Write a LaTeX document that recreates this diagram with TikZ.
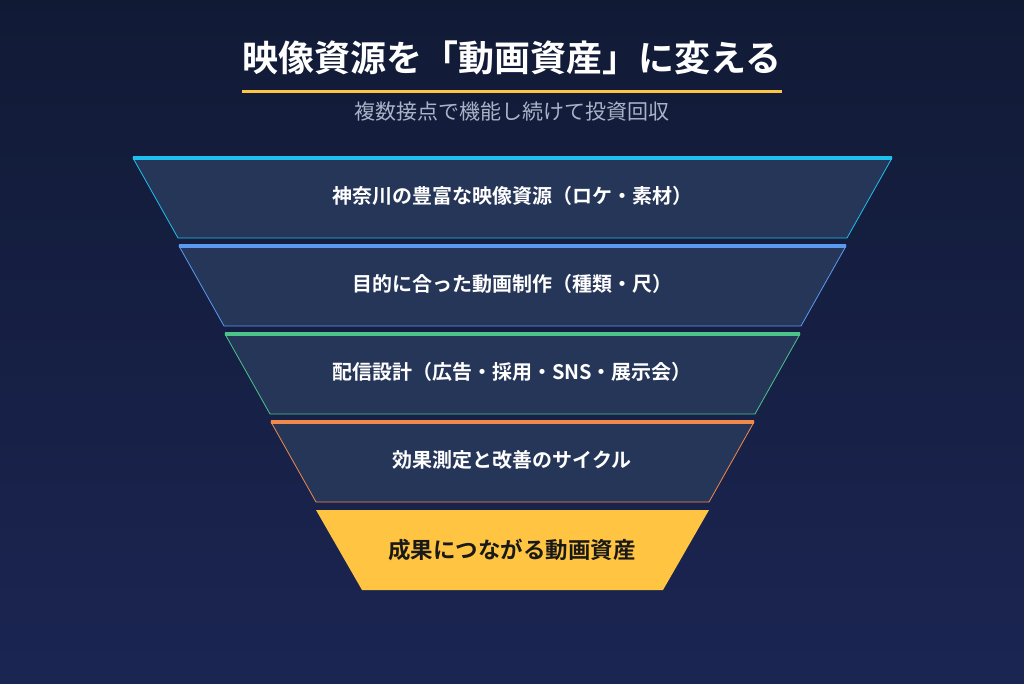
\documentclass[tikz,border=0pt]{standalone}
\usepackage{fontspec}
\newfontfamily\cjk{Noto Sans CJK JP Bold}
\newfontfamily\cjkr{Noto Sans CJK JP}
\definecolor{bgtop}{HTML}{111A35}
\definecolor{bgbot}{HTML}{1B2552}
\definecolor{layer}{HTML}{263659}
\definecolor{cA}{HTML}{1EC0EE}
\definecolor{cB}{HTML}{5A9AF0}
\definecolor{cC}{HTML}{4CC38A}
\definecolor{cD}{HTML}{F08A4B}
\definecolor{gold}{HTML}{FFC542}
\definecolor{sub}{HTML}{A9B3C8}
\begin{document}
\begin{tikzpicture}[x=1pt,y=-1pt,
  lay/.style={fill=layer,draw=#1,line width=0.8pt},
  topline/.style={draw=#1,line width=3.5pt},
  lbl/.style={font=\cjk\fontsize{20}{24}\selectfont,text=white}]
\shade[top color=bgtop,bottom color=bgbot] (0,0) rectangle (1024,683);
\useasboundingbox (0,0) rectangle (1024,683);
\node[font=\cjk\fontsize{36}{42}\selectfont,text=white] (title) at (512,58) {映像資源を「動画資産」に変える};
\draw[gold,line width=3pt] (242,91) -- (782,91);
\node[font=\cjkr\fontsize{21}{25}\selectfont,text=sub] (subt) at (512,112) {複数接点で機能し続けて投資回収};
% layers
\foreach \i/\c/\t in {0/cA/{神奈川の豊富な映像資源（ロケ・素材）},1/cB/{目的に合った動画制作（種類・尺）},2/cC/{配信設計（広告・採用・SNS・展示会）},3/cD/{効果測定と改善のサイクル}}{
  \pgfmathsetmacro{\ya}{158+88*\i}
  \pgfmathsetmacro{\yb}{\ya+80}
  \pgfmathsetmacro{\xl}{133+46*\i}
  \pgfmathsetmacro{\xr}{892-46*\i}
  \path[lay=\c] (\xl,\ya) -- (\xr,\ya) -- (\xr-45,\yb) -- (\xl+45,\yb) -- cycle;
  \draw[topline=\c] (\xl,\ya) -- (\xr,\ya);
  \node[lbl] (l\i) at (512,\ya+38) {\t};
}
\fill[gold] (316,510) -- (709,510) -- (663,590) -- (362,590) -- cycle;
\node[font=\cjk\fontsize{22.5}{27}\selectfont,text=black!90] (l4) at (512,550) {成果につながる動画資産};
\end{tikzpicture}
\end{document}
